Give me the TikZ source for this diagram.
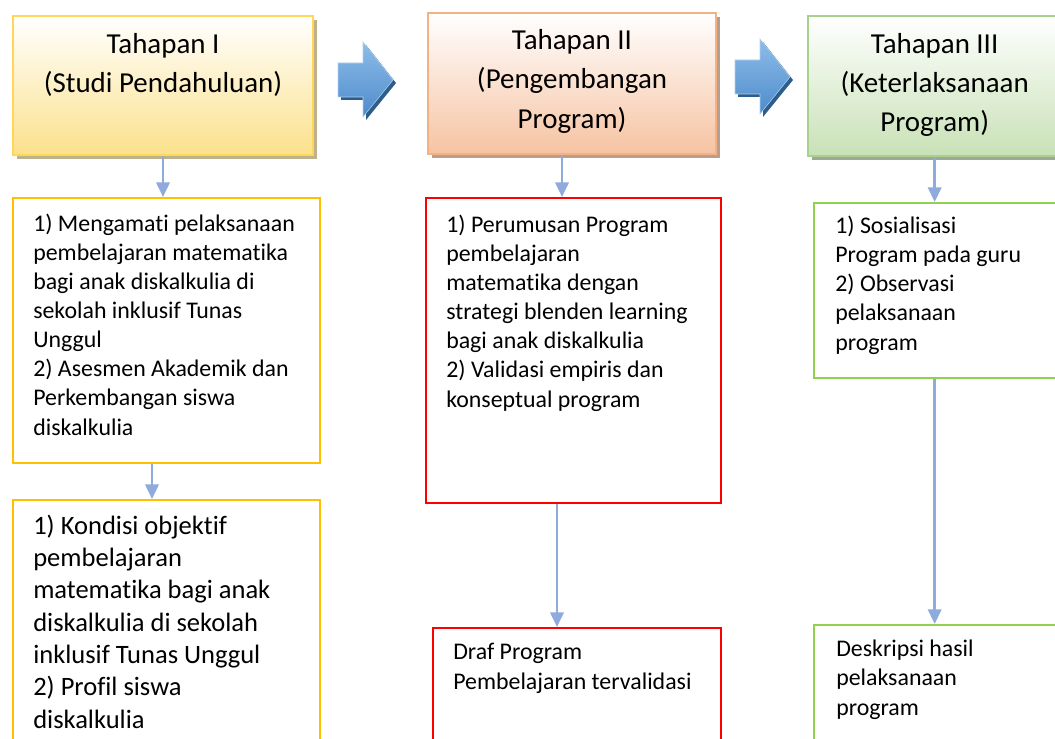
\documentclass[tikz,border=0pt]{standalone}
\usepackage{fontspec}
\setmainfont{Carlito}[Ligatures=NoCommon]
\usepackage{xcolor}
\usepackage{tikz}
\usetikzlibrary{arrows.meta}
\usetikzlibrary{calc}
\usetikzlibrary{shadows}

\definecolor{hdronedraw}{HTML}{FFD657}
\definecolor{hdronefill}{HTML}{FBE18C}
\definecolor{hdroneshade}{HTML}{BDB28C}
\definecolor{hdrtwodraw}{HTML}{F4B183}
\definecolor{hdrtwofill}{HTML}{F6C3A2}
\definecolor{hdrtwoshade}{HTML}{B89E8C}
\definecolor{hdrthreedraw}{HTML}{A9D18E}
\definecolor{hdrthreefill}{HTML}{C8E1B6}
\definecolor{hdrthreeshade}{HTML}{9FA894}
\definecolor{boxonedraw}{HTML}{FFC000}
\definecolor{boxtwodraw}{HTML}{FF0000}
\definecolor{boxthreedraw}{HTML}{92D050}
\definecolor{flowblue}{HTML}{8FAADC}
\definecolor{blocktop}{HTML}{8DBDE9}
\definecolor{blockbottom}{HTML}{4E8BCB}
\definecolor{blockshadow}{HTML}{2D5D8B}

\tikzset{
    stagebox/.style = {rectangle, draw, line width=1.5pt, anchor=north west, inner sep=0pt},
    hdrone/.style = {stagebox, draw=hdronedraw, top color=white, bottom color=hdronefill,
        drop shadow={shadow xshift=3pt, shadow yshift=-3pt, fill=hdroneshade, opacity=1}},
    hdrtwo/.style = {stagebox, draw=hdrtwodraw, top color=white, bottom color=hdrtwofill,
        drop shadow={shadow xshift=3pt, shadow yshift=-3pt, fill=hdrtwoshade, opacity=1}},
    hdrthree/.style = {stagebox, draw=hdrthreedraw, top color=white, bottom color=hdrthreefill,
        drop shadow={shadow xshift=3pt, shadow yshift=-3pt, fill=hdrthreeshade, opacity=1}},
    boxone/.style = {stagebox, draw=boxonedraw, fill=white},
    boxtwo/.style = {stagebox, draw=boxtwodraw, fill=white},
    boxthree/.style = {stagebox, draw=boxthreedraw, fill=white},
    stagetext/.style = {font=\fontsize{21.7}{29.6}\selectfont, align=center, anchor=base, inner sep=0pt},
    bodytext/.style = {font=\fontsize{17.9}{21.8}\selectfont, align=left, anchor=base west, inner sep=0pt},
    bigtext/.style = {bodytext, font=\fontsize{19.9}{24.2}\selectfont},
    flowarrow/.style = {draw=flowblue, line width=2pt, -{Triangle[width=10pt,length=11pt]}},
    blockarrow/.style = {top color=blocktop, bottom color=blockbottom, draw=blocktop!70!white, line width=0.4pt}
}

\begin{document}
\begin{tikzpicture}[x=0.75pt, y=-0.75pt]
    \useasboundingbox (0, 0) rectangle (1055, 738);
    \clip (0, 0) rectangle (1055, 738);

    % stage headers (text placed by the baseline of its last line)
    \node[hdrone, minimum width=225pt, minimum height=104.25pt] (h1) at (12, 15) {};
    \node[hdrtwo, minimum width=216pt, minimum height=105.75pt] (h2) at (427, 12) {};
    \node[hdrthree, minimum width=190pt, minimum height=105pt] (h3) at (807, 15) {};

    \node[stagetext] (t1) at ($(h1.north)+(0, 78)$) {Tahapan I\\(Studi Pendahuluan)};
    \node[stagetext] (t2) at ($(h2.north)+(0, 116)$) {Tahapan II\\(Pengembangan\\Program)};
    \node[stagetext] (t3) at ($(h3.north)+(0, 117)$) {Tahapan III\\(Keterlaksanaan\\Program)};

    % block arrows between the stages
    \foreach \dx/\dy in {0/0, 397/-3} {
        \fill[blockshadow, shift={(\dx+3, \dy+3)}] (338, 63) -- (363, 63) -- (363, 42) -- (393, 80)
            -- (363, 117) -- (363, 97) -- (338, 97) -- cycle;
        \shade[blockarrow, shift={(\dx, \dy)}] (338, 63) -- (363, 63) -- (363, 42) -- (393, 80)
            -- (363, 117) -- (363, 97) -- (338, 97) -- cycle;
    }

    % activity boxes
    \node[boxone, minimum width=230.25pt, minimum height=198.75pt] (b1) at (12, 197) {};
    \node[boxone, minimum width=230.25pt, minimum height=190pt] (b1b) at (12, 499) {};
    \node[boxtwo, minimum width=221.25pt, minimum height=228.75pt] (b2) at (425, 197) {};
    \node[boxtwo, minimum width=216pt, minimum height=95pt] (b2b) at (432, 627) {};
    \node[boxthree, minimum width=187.5pt, minimum height=131.25pt] (b3) at (813, 202) {};
    \node[boxthree, minimum width=187.5pt, minimum height=97pt] (b3b) at (813, 624) {};

    \node[bodytext] (s1) at ($(b1.north west)+(21, 238)$) {1) Mengamati pelaksanaan\\pembelajaran matematika\\bagi anak diskalkulia di\\sekolah inklusif Tunas\\Unggul\\2) Asesmen Akademik dan\\Perkembangan siswa\\diskalkulia};
    \node[bigtext] (s1b) at ($(b1b.north west)+(21, 229)$) {1) Kondisi objektif\\pembelajaran\\matematika bagi anak\\diskalkulia di sekolah\\inklusif Tunas Unggul\\2) Profil siswa\\diskalkulia};
    \node[bodytext] (s2) at ($(b2.north west)+(21, 210)$) {1) Perumusan Program\\pembelajaran\\matematika dengan\\strategi blenden learning\\bagi anak diskalkulia\\2) Validasi empiris dan\\konseptual program};
    \node[bodytext] (s2b) at ($(b2b.north west)+(21, 62)$) {Draf Program\\Pembelajaran tervalidasi};
    \node[bodytext] (s3) at ($(b3.north west)+(22, 148)$) {1) Sosialisasi\\Program pada guru\\2) Observasi\\pelaksanaan\\program};
    \node[bodytext] (s3b) at ($(b3b.north west)+(23, 91)$) {Deskripsi hasil\\pelaksanaan\\program};

    % flow arrows
    \coordinate (c1) at (152, 0);
    \coordinate (c2) at (562, 0);
    \coordinate (c3) at (557, 0);
    \draw[flowarrow] (h1.south) -- (h1.south |- b1.north);
    \draw[flowarrow] (b1.south -| c1) -- (b1b.north -| c1);
    \draw[flowarrow] (h2.south -| c2) -- (b2.north -| c2);
    \draw[flowarrow] (b2.south -| c3) -- (b2b.north -| c3);
    \draw[flowarrow] (h3.south) -- (h3.south |- b3.north);
    \draw[flowarrow] (b3.south -| h3.south) -- (b3b.north -| h3.south);
\end{tikzpicture}
\end{document}
